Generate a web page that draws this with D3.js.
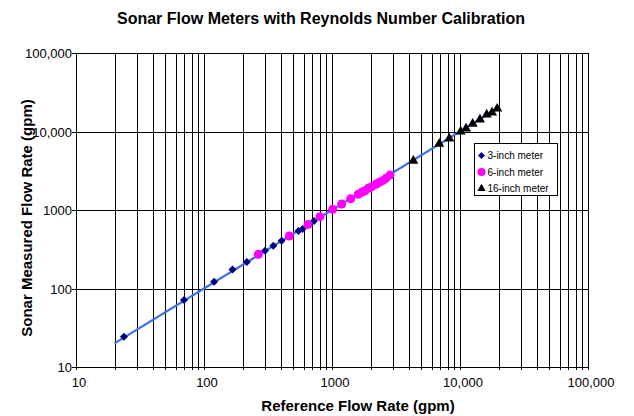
<!DOCTYPE html>
<html><head><meta charset="utf-8">
<script src="https://cdn.jsdelivr.net/npm/d3@7"></script>
<style>body{margin:0;background:#fff}svg{display:block}text{font-family:Arial,"Liberation Sans",sans-serif}</style>
</head><body>
<svg id="c" width="634" height="416"></svg>
<script>
const decadeTicks = [10, 100, 1000, 10000, 100000];
const decadeLabels = ["10", "100", "1000", "10,000", "100,000"];
const series = ["3-inch meter", "6-inch meter", "16-inch meter"];
const inch3X = [23.7, 69.8, 120, 167, 216, 300, 348, 404, 547, 589, 723];
const inch3Y = [24.3, 71.4, 122, 175, 218, 303, 350, 406, 540, 573, 724];
const inch6X = [266, 464, 649, 806, 1012, 1191, 1400, 1604, 1705, 1811, 1922, 2042, 2207, 2343, 2491, 2642, 2838];
const inch6Y = [273, 466, 653, 822, 1020, 1191, 1393, 1585, 1679, 1761, 1890, 1981, 2125, 2253, 2363, 2534, 2792];
const inch16X = [4315, 6887, 8240, 10120, 11140, 12560, 14320, 16170, 17780, 19540];
const inch16Y = [4171, 6871, 8017, 9860, 10770, 12350, 14000, 16220, 17200, 19230];
const fitLine = [20, 20500];

const svg = d3.select("#c");
const L = 76, R = 588, T = 53, B = 367;
const x = d3.scaleLog().domain([10, 100000]).range([L, R]);
const y = d3.scaleLog().domain([10, 100000]).range([B, T]);
const px = v => Math.round(v) + 0.5;

const minor = [];
for (let d = 10; d < 100000; d *= 10) for (let k = 1; k <= 9; k++) minor.push(d * k);
minor.push(100000);

// vertical grid
svg.append("g").selectAll("line").data(minor).join("line")
  .attr("x1", d => px(x(d))).attr("x2", d => px(x(d)))
  .attr("y1", T).attr("y2", B + 3)
  .attr("stroke", "#000").attr("stroke-width", 1);
// horizontal grid
svg.append("g").selectAll("line").data(decadeTicks).join("line")
  .attr("x1", L - 4).attr("x2", R)
  .attr("y1", d => px(y(d))).attr("y2", d => px(y(d)))
  .attr("stroke", "#000").attr("stroke-width", 1);

// axis labels
svg.append("g").selectAll("text").data(decadeTicks).join("text")
  .attr("x", L - 4).attr("y", d => y(d) + 5)
  .attr("text-anchor", "end").attr("font-size", 13)
  .text((d, i) => decadeLabels[i]);
svg.append("g").selectAll("text").data(decadeTicks).join("text")
  .attr("x", d => x(d) + 3).attr("y", B + 20)
  .attr("text-anchor", "middle").attr("font-size", 13)
  .text((d, i) => decadeLabels[i]);

// fit line
svg.append("line")
  .attr("x1", x(fitLine[0])).attr("y1", y(fitLine[0]))
  .attr("x2", x(fitLine[1])).attr("y2", y(fitLine[1]))
  .attr("stroke", "#3c6ff0").attr("stroke-width", 2.2);

const tri = d3.symbol().type(d3.symbolTriangle).size(44);

svg.append("g").selectAll("path").data(d3.zip(inch3X, inch3Y)).join("path")
  .attr("d", d3.symbol().type(d3.symbolSquare).size(32))
  .attr("transform", d => `translate(${x(d[0])},${y(d[1])}) rotate(45)`)
  .attr("fill", "#000080");
svg.append("g").selectAll("circle").data(d3.zip(inch6X, inch6Y)).join("circle")
  .attr("cx", d => x(d[0])).attr("cy", d => y(d[1])).attr("r", 4.5)
  .attr("fill", "#ff00ff");
svg.append("g").selectAll("path").data(d3.zip(inch16X, inch16Y)).join("path")
  .attr("d", tri)
  .attr("transform", d => `translate(${x(d[0])},${y(d[1]) - 0.5})`)
  .attr("fill", "#000");

// legend
const lg = svg.append("g").attr("transform", "translate(474.5,143.5)");
lg.append("rect").attr("width", 83).attr("height", 52).attr("fill", "#fff").attr("stroke", "#000").attr("stroke-width", 1);
const rows = lg.selectAll("g").data(series).join("g").attr("transform", (d, i) => `translate(7,${12 + i * 16.5})`);
rows.each(function (d, i) {
  const g = d3.select(this);
  if (i === 0) g.append("path").attr("d", d3.symbol().type(d3.symbolSquare).size(24)).attr("transform", "rotate(45)").attr("fill", "#000080");
  if (i === 1) g.append("circle").attr("r", 4).attr("fill", "#ff00ff");
  if (i === 2) g.append("path").attr("d", d3.symbol().type(d3.symbolTriangle).size(30)).attr("fill", "#000");
});
rows.append("text").attr("x", 6).attr("y", 3.5).attr("font-size", 10).text(d => d);

// titles
svg.append("text").attr("x", 321).attr("y", 24).attr("text-anchor", "middle")
  .attr("font-size", 16).attr("font-weight", "bold").text("Sonar Flow Meters with Reynolds Number Calibration");
svg.append("text").attr("x", 358).attr("y", 411).attr("text-anchor", "middle")
  .attr("font-size", 15).attr("font-weight", "bold").text("Reference Flow Rate (gpm)");
svg.append("text").attr("transform", "translate(32,218) rotate(-90)").attr("text-anchor", "middle")
  .attr("font-size", 15).attr("font-weight", "bold").text("Sonar Measured Flow Rate (gpm)");
</script>
</body></html>
